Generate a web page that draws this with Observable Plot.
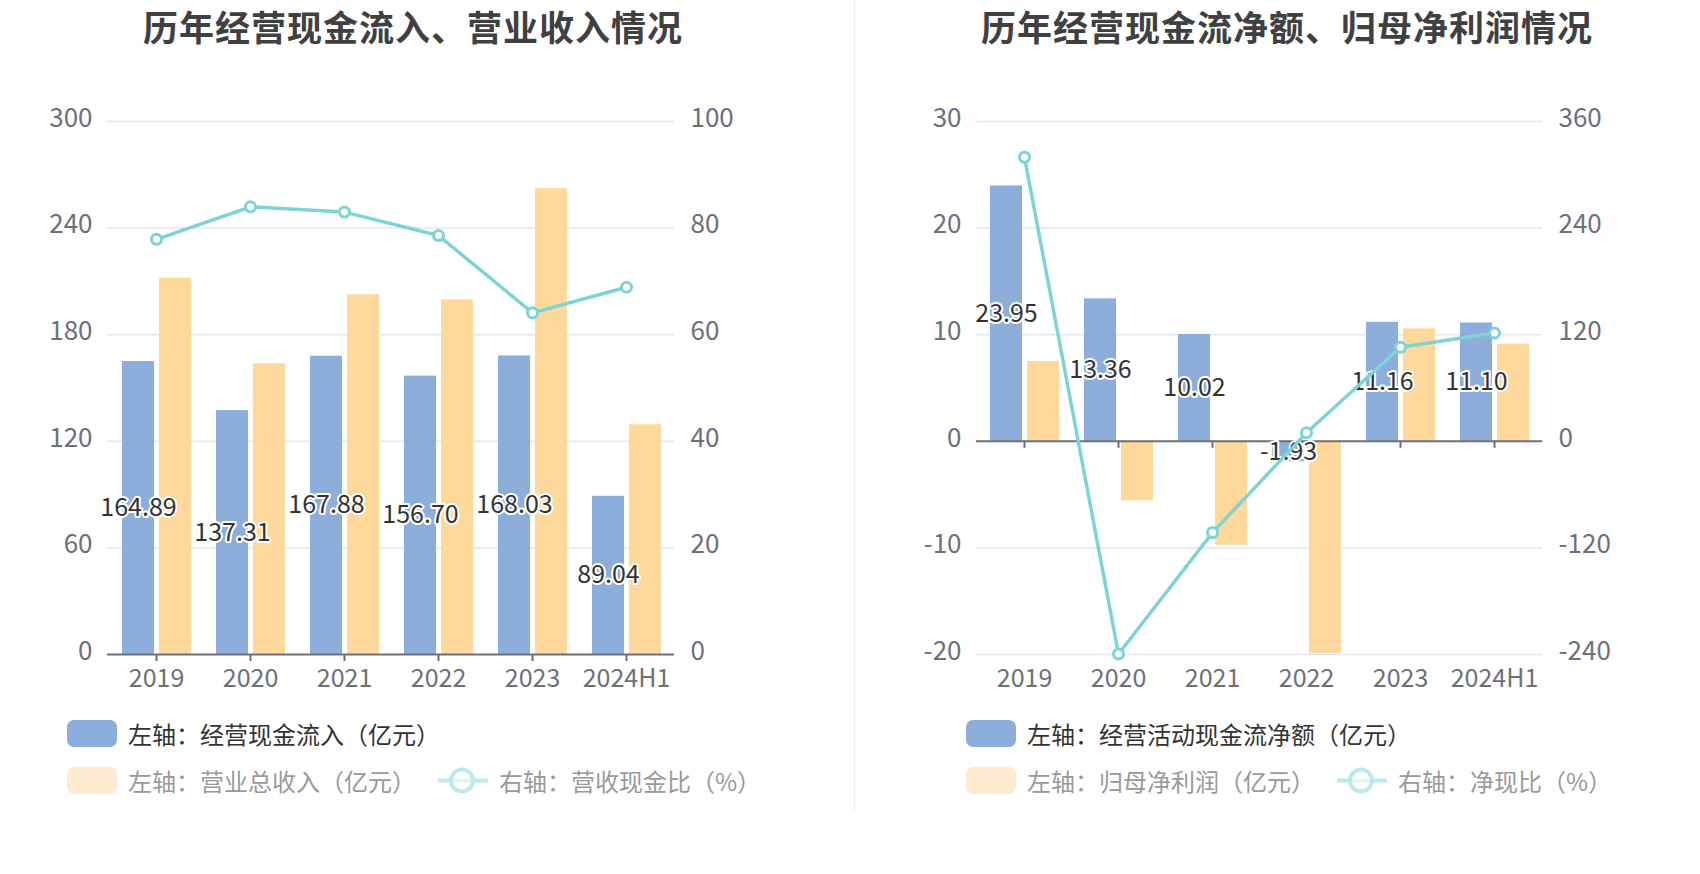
<!DOCTYPE html>
<html><head><meta charset="utf-8">
<script src="https://cdn.jsdelivr.net/npm/d3@7"></script>
<script src="https://cdn.jsdelivr.net/npm/@observablehq/plot@0.6"></script>
<style>
body{margin:0;background:#fff;font-family:"Noto Sans CJK SC","Noto Sans",sans-serif;}
#wrap{position:relative;width:1700px;height:874px;overflow:hidden;}
.panel{position:absolute;top:0;width:850px;height:874px;}
.title{position:absolute;top:0;height:51px;line-height:51px;font-size:35px;letter-spacing:1px;font-weight:bold;color:#404040;white-space:nowrap;transform:translateX(-50%);}
.sep{position:absolute;left:854px;top:0;width:1px;height:813px;background:#eeeeee;}
.chart{position:absolute;top:58px;left:0;}
.legend{position:absolute;top:720px;font-size:24px;}
.row{display:flex;align-items:center;height:27px;margin-bottom:20px;white-space:nowrap;}
.sw{width:50px;height:27px;border-radius:7px;margin-right:11px;flex:none;}
.ln{width:50px;height:27px;margin-right:11px;margin-left:22px;flex:none;}
.dark{color:#333;}
.gray{color:#999;}
</style>
</head><body>
<div id="wrap">
  <div class="panel" id="p1" style="left:0">
    <div class="title" style="left:413px">历年经营现金流入、营业收入情况</div>
    <div class="chart" id="c1"></div>
    <div class="legend" style="left:67px">
      <div class="row"><div class="sw" style="background:#8DADDA"></div><span class="dark">左轴：经营现金流入（亿元）</span></div>
      <div class="row"><div class="sw" style="background:#FFEBCF"></div><span class="gray">左轴：营业总收入（亿元）</span>
        <svg class="ln" viewBox="0 0 50 27"><line x1="0" y1="13.5" x2="50" y2="13.5" stroke="#BDE9EB" stroke-width="4"/><circle cx="24" cy="13.5" r="11" fill="white" fill-opacity="0.6" stroke="#BDE9EB" stroke-width="4"/></svg>
        <span class="gray">右轴：营收现金比（%）</span></div>
    </div>
  </div>
  <div class="sep"></div>
  <div class="panel" id="p2" style="left:850px">
    <div class="title" style="left:437px">历年经营现金流净额、归母净利润情况</div>
    <div class="chart" id="c2"></div>
    <div class="legend" style="left:116px">
      <div class="row"><div class="sw" style="background:#8DADDA"></div><span class="dark">左轴：经营活动现金流净额（亿元）</span></div>
      <div class="row"><div class="sw" style="background:#FFEBCF"></div><span class="gray">左轴：归母净利润（亿元）</span>
        <svg class="ln" viewBox="0 0 50 27"><line x1="0" y1="13.5" x2="50" y2="13.5" stroke="#BDE9EB" stroke-width="4"/><circle cx="24" cy="13.5" r="11" fill="white" fill-opacity="0.6" stroke="#BDE9EB" stroke-width="4"/></svg>
        <span class="gray">右轴：净现比（%）</span></div>
    </div>
  </div>
</div>
<script>
const years = ["2019","2020","2021","2022","2023","2024H1"];

// Chart 1
const cashInflow = [164.89, 137.31, 167.88, 156.70, 168.03, 89.04];
const revenue    = [211.8, 163.6, 202.5, 199.6, 262.2, 129.3];
const cashRatio  = [77.9, 84.0, 83.0, 78.6, 64.1, 68.9];
const ticksL1 = [0, 60, 120, 180, 240, 300];
const ticksR1 = [0, 20, 40, 60, 80, 100];

// Chart 2
const netCash   = [23.95, 13.36, 10.02, -1.93, 11.16, 11.10];
const netProfit = [7.49, -5.58, -9.75, -19.93, 10.55, 9.11];
const netRatio  = [319.8, -239.4, -102.8, 9.7, 105.8, 121.8];
const ticksL2 = [-20, -10, 0, 10, 20, 30];
const ticksR2 = [-240, -120, 0, 120, 240, 360];

const BLUE = "#8DADDA", ORANGE = "#FFD99B", TEAL = "#7DD3D6";
const FONT = '"Noto Sans CJK SC","Noto Sans",sans-serif';

function makeChart({a, b, r, ticksL, ticksR, marginLeft, marginRight}) {
  const domain = [ticksL[0], ticksL[ticksL.length - 1]];
  const k = (ticksL[ticksL.length - 1] - ticksL[0]) / (ticksR[ticksR.length - 1] - ticksR[0]);
  const rows = years.map((y, i) => ({year: y, a: a[i], b: b[i], r: r[i]}));
  return Plot.plot({
    width: 850, height: 641,
    marginTop: 63, marginBottom: 45, marginLeft, marginRight,
    style: {fontSize: "25px", fontFamily: FONT, color: "#6E7079", background: "transparent", overflow: "visible"},
    x: {domain: years, padding: 0, label: null},
    y: {domain, label: null},
    marks: [
      Plot.ruleY(ticksL.filter(v => v !== 0), {stroke: "#E0E6F1", strokeWidth: 1.5}),
      Plot.barY(rows, {x: "year", y: "a", fill: BLUE, insetLeft: 13, insetRight: 49}),
      Plot.barY(rows, {x: "year", y: "b", fill: ORANGE, insetLeft: 50, insetRight: 12}),
      Plot.ruleY([0], {stroke: "#6E7079", strokeWidth: 2}),
      Plot.ruleX(rows, {x: "year", y1: 0, y2: 0, insetBottom: -7, stroke: "#6E7079", strokeWidth: 2}),
      Plot.axisX({anchor: "bottom", tickSize: 0, tickPadding: 15, fill: "#6E7079"}),
      Plot.axisY({anchor: "left", ticks: ticksL, tickSize: 0, tickPadding: 15, dy: -3, tickFormat: d => String(d), fill: "#6E7079", fontSize: 26}),
      Plot.axisY({anchor: "right", ticks: ticksR.map(v => v * k), tickSize: 0, tickPadding: 16, dy: -3, tickFormat: d => String(Math.round(d / k)), fill: "#6E7079", fontSize: 26}),
      Plot.text(rows, {x: "year", y: d => d.a / 2, text: d => d.a.toFixed(2), dx: -18, fill: "#333", stroke: "white", strokeWidth: 4, paintOrder: "stroke", fontSize: 25}),
      Plot.line(rows, {x: "year", y: d => d.r * k, stroke: TEAL, strokeWidth: 3.5}),
      Plot.dot(rows, {x: "year", y: d => d.r * k, r: 5, fill: "white", stroke: TEAL, strokeWidth: 3})
    ]
  });
}

document.getElementById("c1").append(makeChart({a: cashInflow, b: revenue, r: cashRatio, ticksL: ticksL1, ticksR: ticksR1, marginLeft: 107, marginRight: 176}));
document.getElementById("c2").append(makeChart({a: netCash, b: netProfit, r: netRatio, ticksL: ticksL2, ticksR: ticksR2, marginLeft: 126, marginRight: 158}));
</script>
</body></html>
